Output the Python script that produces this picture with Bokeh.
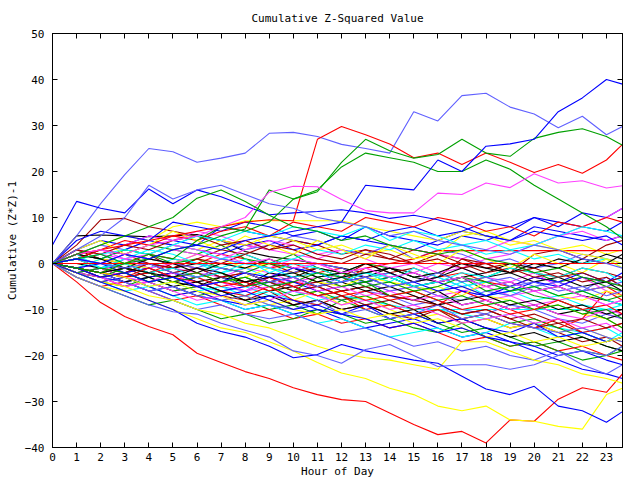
from bokeh.plotting import figure
from bokeh.models import ColumnDataSource, Range1d, FixedTicker, LinearAxis
from bokeh.embed import file_html
from bokeh.resources import INLINE

TITLE = "Cumulative Z-Squared Value"
X_LABEL = "Hour of Day"
Y_LABEL = "Cumulative (Z*Z)-1"
X_TICKS = list(range(24))
Y_TICKS = [-40, -30, -20, -10, 0, 10, 20, 30, 40, 50]

HOURS = [0, 1, 2, 3, 4, 5, 6, 7, 8, 9, 10, 11, 12, 13, 14, 15, 16, 17, 18, 19, 20, 21, 22, 23, 23.667]

# prominent walks
line_a = [0, 6, 13, 19.3, 25, 24.3, 22, 22.9, 24, 28.3, 28.5, 27.6, 25.9, 25, 24, 33, 31, 36.5, 37, 34, 32.5, 29.5, 32, 28, 29.8]
line_b = [4, 13.5, 12, 11, 16.2, 13, 16, 14.5, 12.5, 10.6, 11, 11.3, 11.7, 11, 9.8, 10.5, 9.5, 8, 6, 5, 7, 6, 5, 6, 4]
line_c = [0, 2, 3, 4, 5, 6, 7, 8, 9, 9.5, 9.3, 27, 29.8, 28, 26, 23, 24, 21.5, 24, 22, 19.8, 21.5, 19.6, 22.5, 25.9]
line_d = [0, 1, 2, 0, 1, 3, 4, 6, 7.5, 16, 14, 15.6, 22, 27, 24.5, 22.9, 23.7, 27, 24, 23.3, 27.2, 28.5, 29.3, 27.6, 25.7]
line_d2 = [0, -1, -2, 0, 2, 1, 5, 8, 7, 9, 14, 16, 21, 24, 23, 22, 20, 20, 22.5, 20.5, 17, 14, 11, 8, 5.4]
line_e = [0, 1, 0, 2, 1, 3, 4, 3, 5, 6, 7, 8, 9, 17, 16.5, 16, 22.5, 20, 25.5, 26, 27, 33, 36, 40, 39]
line_f = [0, 2, 3, 2, 4, 5, 6, 8, 10, 15.5, 16.8, 16.7, 13.9, 11.5, 11, 11, 15.3, 15, 17.5, 16.5, 19.5, 17.5, 18, 16.4, 16.9]
line_g = [0, -4, -8.5, -11.5, -13.7, -15.5, -19.5, -21.5, -23.5, -25, -27, -28.5, -29.6, -30, -32.5, -35, -37.2, -36.5, -39, -34, -34.3, -29.5, -27, -28, -24]
line_h = [0, -3, -5, -6, -8, -10, -12, -14, -15, -17, -19, -21.5, -23.8, -25, -27.1, -28.5, -31, -32, -31, -34, -34.3, -35.4, -36, -28.5, -27.1]
line_i = [0, -2, -4, -5, -7, -8, -10, -11, -13, -14, -16, -18, -19.5, -20.5, -21, -22, -23, -17, -17, -19, -21, -22, -24, -25, -26]
line_j = [0, -2, -4, -6, -8, -10, -13, -14.8, -16, -18, -20.5, -19.8, -17.6, -19, -20, -21, -21.7, -24.5, -27.3, -28.5, -26.7, -31, -32, -34.5, -32.2]
line_k = [0, -3, -5, -7, -9, -10.5, -11, -13, -14.5, -16, -19, -20, -21.7, -18.7, -17.6, -20, -22.4, -22, -22, -23, -22, -20, -19, -20, -18]
line_l = [0, 3, 6, 10, 17, 14, 16, 17, 15, 13, 12, 10, 9, 8, 6, 7, 5, 4, 3, 2, 4, 3, 1, 0, -1]
line_m = [0, 2, 4, 6, 8, 10, 14.2, 16, 13.5, 10.5, 8, 7, 5, 6, 4, 3, 2, 3, 1, 0, -2, -1, -3, -4, -5]
line_zero = [0] * 25

# the dense band
b01 = [0, 3, 5, 4, 6, 5, 4, 8, 7, 6, 5, 4, 6, 5, 4, 3, 5, 7, 6, 5, 8, 7, 6, 5, 6]
b02 = [0, -1, -2, 1, 0, -1, -2, -3, -1, -2, -4, -3, -5, -4, -6, -5, -7, -6, -8, -7, -9, -8, -10, -11, -12]
b03 = [0, -1, -3, -2, -4, -3, -5, -6, -5, -7, -6, -8, -7, -9, -8, -10, -10, -11, -12, -11, -13, -14, -15, -14, -16]
b04 = [0, 2, 1, 3, 2, 1, 0, 2, 1, -1, 0, -2, -1, -3, -2, -4, -3, -2, -4, -5, -3, -4, -6, -5, -7]
b05 = [0, -2, -4, -5, -3, -5, -7, -6, -8, -10, -9, -11, -8, -10, -12, -11, -13, -15, -14, -16, -18, -17, -19, -20, -18]
b06 = [0, 4, 9.5, 9.8, 8, 7, 6, 5, 4, 3, 5, 4, 2, 3, 1, 0, 2, 1, -1, 0, -2, -3, -1, -2, -3]
b07 = [0, 2, 4, 6, 5, 8, 9, 8, 9.3, 9.3, 9.3, 9.3, 9.3, 8, 7, 6, 5, 7, 6, 4, 5, 3, 4, 2, 3]
b08 = [0, 6, 6.2, 6, 5.8, 6, 6.3, 5, 2.6, 1.5, 0.8, 0, -1, -2, -1, -3, -4, -3, -5, -4, -6, -5, -7, -8, -9]
b09 = [0, -2, -1, -3, -2, -4, -3, -5, -6, -4, -5, -7, -8, -6, -7, -9, -8, -10, -11, -9, -10, -12, -13, -11, -12]
b10 = [0, -1, -3, -4, -6, -5, -7, -8, -10, -9, -11, -10, -12, -14, -13, -12, -14, -16, -15, -17, -19, -21, -23, -24, -25]
b11 = [0, 3, 2, 4, 6, 5, 7, 6, 4, 3, 2, 1, 3, 2, 4, 3, 2, 1, 3, 5, 4, 6, 7, 5, 6]
b12 = [0, 1, 2, 0, -1, 1, 0, -2, -1, -3, -2, -1, -3, -4, -2, -5, -6, -4, -7, -6, -8, -7, -9, -10, -9]
b13 = [0, -3, -5, -4, -6, -8, -7, -9, -11, -10, -12, -11, -13, -12, -14, -13, -15, -17, -16, -18, -17, -19, -18, -20, -21]
b14 = [0, 1, 3, 2, 4, 3, 2, 4, 1, 0, 2, -1, -2, 0, -1, -3, -2, -4, -3, -1, -2, -4, -3, -5, -6]
b15 = [0, -2, -3, -5, -4, -6, -5, -7, -8, -6, -9, -8, -10, -9, -11, -12, -10, -13, -12, -14, -13, -15, -17, -16, -18]
b16 = [0, -2, -4, -3, -5, -7, -6, -8, -7, -9, -8, -6, -9, -7, -10, -12, -11, -13, -12, -14, -13, -15, -14, -16, -17]
b17 = [0, -1, -2, -3, -2, -4, -5, -3, -4, -6, -5, -7, -6, -5, -7, -8, -6, -9, -8, -10, -9, -11, -10, -12, -11]
b18 = [0, 2, 4, 3, 5, 4, 6, 5, 3, 4, 6, 5, 3, 2, 4, 1, 3, 2, 0, 1, -1, 0, 2, 1, 0]
b19 = [0, 5, 7, 6, 5, 9, 8, 7, 9, 8, 6, 7, 5, 8, 6, 5, 4, 6, 5, 7, 10, 8, 11, 10, 12]
b20 = [0, -1, -3, -5, -4, -6, -5, -4, -6, -3, -5, -4, -2, -4, -3, -5, -4, -6, -5, -7, -6, -8, -7, -9, -8]
b21 = [0, -2, -1, -3, -5, -4, -6, -5, -7, -6, -8, -9, -7, -8, -9, -10, -10, -10, -10, -10, -10, -10, -10, -10, -10]
b22 = [0, 1, 0, -1, -2, 0, -1, -3, -2, -4, -3, -2, -4, -1, 0, 1, 2.8, 2.8, 2.8, 2.8, 2.8, 2.8, 2.8, 2.8, 2.8]
b23 = [0, -3, -5, -7, -9, -8, -10, -12, -11, -13, -12, -10, -11, -13, -12, -14, -15, -13, -16, -18, -17, -19, -21, -20, -19]
b24 = [0, 1, -1, -2, 0, -1, -3, -2, -4, -3, -5, -4, -6, -5, -7, -8, -9, -11, -10, -12, -14, -13, -15, -17, -16]
b25 = [0, 1, 3, 2, 1, 0, 2, 1, -1, 0, -2, -1, -3, -2, -4, -5, -6, -5, -7, -8, -10, -9, -11, -12, -14]
b26 = [0, -1, -2, -1, -3, -2, -4, -3, -5, -2, -3, -1, -2, -3, -1, -2, -4, -3, -2, 0, -1, 1, 0, 2, 1]
b27 = [0, -2, -1, 1, 0, -2, -1, -3, -5, -4, -6, -5, -3, -4, -6, -5, -7, -8, -6, -7, -5, -4, -6, -3, -5]
b28 = [0, 2, 1, 3, 5, 4, 3, 2, 4, 5, 3, 4, 6, 5, 7, 8, 6, 7, 9, 8, 10, 9, 8, 7, 9]
b29 = [0, -1, 0, 2, 1, 3, 2, 1, 0, -1, 1, 0, -2, -1, -3, -2, 0, -1, 1, 2, 4, 6, 8, 10, 12]
b30 = [0, -2, -4, -6, -5, -7, -9, -8, -10, -9, -11, -13, -12, -14, -16, -15, -14, -16, -15, -13, -14, -16, -15, -17, -15]
b31 = [0, 1, -1, -3, -2, -4, -3, -5, -4, -6, -4, -5, -7, -6, -8, -7, -9, -6, -8, -10, -12, -14, -12, -6, -8]
b32 = [0, -1, -3, -2, -4, -6, -5, -4, -3, -5, -7, -6, -8, -7, -9, -11, -10, -12, -11, -13, -12, -14, -16, -18, -19]
b33 = [0, 3, 1, 0, 2, -1, 1, 3, 2, 0, -2, -1, -3, 0, -2, -1, -3, 1, 0, -2, 2, 3, 1, 4, 5]
b34 = [0, -1, 1, 0, 2, 4, 3, 5, 4, 6, 5, 3, 4, 2, 3, 1, 2, 6, 7, 5, 4, 3, 2, 1, 0]
b35 = [0, 0, -1, 0, -2, -1, 0, -1, -2, -4, -3, -5, -4, -6, -5, -7, -9, -8, -7, -9, -8, -10, -9, -11, -10]
b36 = [0, -1, -3, -4, -6, -8, -10, -9, -11, -12, -11, -13, -15, -14, -16, -18, -17, -19, -18, -20, -21, -19, -22, -24, -22]
b37 = [0, -1, -2, -4, -3, -2, -4, -6, -5, -3, -4, -6, -5, -4, -3, -5, -4, -6, -7, -5, -3, -4, -2, -4, -3]
b38 = [0, 1, 2, 1, -1, 0, 2, 1, 3, 5, 4, 2, 3, 1, -1, 0, -2, -1, -3, -4, -2, -5, -3, -6, -7]
b39 = [0, -1, 1, 3, 2, 4, 3, 1, 2, 0, 1, 3, 2, 4, 3, 5, 3, 4, 2, 3, 1, 2, 0, 1, -1]
b40 = [0, -2, -3, -2, -1, -3, -4, -6, -7, -5, -8, -9, -7, -10, -9, -11, -10, -12, -11, -13, -14, -12, -15, -14, -13]
b41 = [0, 2, 1, 3, 2, 0, 1, -1, -2, 0, -1, -3, -2, -4, -3, -5, -4, -3, -6, -5, -7, -8, -10, -12, -14]
b42 = [0, 1, 3, 2, 0, -1, 1, 0, 2, 4, 3, 1, 0, 2, 1, 3, 2, 0, -2, -1, -3, -2, -4, -3, -5]
b43 = [0, -1, -2, 0, -1, -3, -2, -4, -3, -1, -2, -4, -5, -3, -4, -6, -5, -7, -4, -6, -5, -7, -8, -6, -7]
b44 = [0, -1, -2, -4, -3, -5, -4, -6, -8, -7, -9, -8, -10, -9, -11, -10, -13, -12, -14, -16, -15, -17, -16, -18, -19]
b45 = [0, 1, 0, 2, 1, 0, -1, 1, 0, -1, -2, 0, -1, -3, -2, -4, -3, -5, -4, -3, -5, -4, -6, -5, -4]
b46 = [0, -2, -4, -3, -5, -7, -6, -8, -9, -7, -8, -10, -11, -9, -12, -11, -13, -12, -14, -15, -13, -16, -15, -17, -16]
b47 = [0, -2, -1, -3, -4, -2, -5, -4, -6, -5, -3, -6, -5, -7, -6, -8, -7, -9, -8, -10, -9, -11, -12, -10, -11]
b48 = [0, 2, -1, 1, 3, 2, 0, -1, 1, -2, 0, -1, -3, -2, -4, -1, -3, -5, -4, -6, -5, -7, -6, -8, -9]
b49 = [0, 1, 3, 5, 4, 6, 5, 7, 8, 6, 9, 8, 7, 10, 9, 8, 10, 9, 7, 8, 6, 9, 8, 10, 9]
b50 = [0, -2, -3, -1, -2, -4, -3, -2, -5, -4, -6, -3, -5, -4, -7, -6, -8, -7, -9, -8, -10, -9, -11, -10, -12]
b51 = [0, -1, -3, -2, 0, -2, -1, -3, -2, -4, -6, -5, -7, -9, -8, -10, -9, -11, -10, -12, -11, -13, -12, -14, -13]
b52 = [0, 3, 5, 2, 4, 7, 5, 3, 6, 4, 2, 5, 3, 1, 4, 2, 0, 3, 1, -1, 2, 0, -2, 1, -1]
b53 = [0, 2, 1, -1, 1, 0, -2, 0, -1, 1, -1, -3, -2, 0, -2, -4, -3, -1, -3, -2, -4, -3, -5, -4, -6]
b54 = [0, -1, -2, -4, -6, -5, -7, -8, -7, -9, -10, -8, -11, -10, -12, -11, -9, -12, -11, -13, -14, -15, -14, -16, -17]
b55 = [0, -1, 0, -2, -1, -3, -5, -4, -2, -3, -1, -2, -4, -3, -5, -4, -6, -5, -7, -6, -4, -5, -3, -4, -2]
b56 = [0, -2, -3, -5, -4, -6, -8, -7, -9, -8, -6, -7, -9, -8, -10, -9, -11, -13, -12, -11, -13, -12, -14, -13, -15]
b57 = [0, 1, -1, 0, -2, -1, -3, -2, 0, -1, -3, -2, -4, -2, -3, -5, -4, -2, -3, -1, -2, -3, -1, -2, -4]
b58 = [0, -1, -2, -3, -1, -3, -2, -4, -5, -3, -5, -7, -6, -8, -7, -6, -8, -10, -9, -11, -10, -8, -10, -9, -11]
b59 = [0, -2, -1, -2, -4, -3, -2, -4, -3, -5, -4, -2, -3, -5, -4, -6, -5, -3, -4, -6, -5, -7, -6, -8, -7]
b60 = [0, 3, 2, 4, 3, 5, 6, 4, 5, 3, 4, 2, 1, 3, 2, 0, 1, -1, 0, -2, -1, -3, -2, -4, -3]
b61 = [0, -1, -2, -3, -5, -4, -6, -7, -9, -8, -10, -11, -10, -12, -11, -13, -12, -14, -16, -15, -17, -16, -18, -17, -16]
b62 = [0, -1, -2, -1, -2, -3, -1, -2, -4, -3, -2, -4, -3, -2, -1, -3, -2, 0, -1, -2, 0, -1, 1, 0, 2]
b63 = [0, 1, 0, -1, 0, -2, -3, -1, -2, -4, -3, -5, -4, -3, -5, -4, -2, -4, -3, -5, -4, -6, -5, -7, -6]
b64 = [0, -1, -3, -2, -4, -3, -5, -7, -6, -8, -10, -9, -11, -12, -14, -13, -15, -14, -16, -17, -18, -20, -19, -21, -22]
b65 = [0, 2, 3, 1, 2, 4, 3, 2, 0, 1, -1, 0, -2, -1, -3, -2, -4, -3, -5, -4, -6, -5, -7, -9, -8]
b66 = [0, 1, 2, 3, 2, 4, 6, 5, 7, 6, 8, 7, 6, 8, 5, 7, 6, 4, 5, 3, 4, 6, 8, 7, 6]

RED, GREEN, BLUE, MAGENTA, CYAN, DARKRED, YELLOW, BLACK, SLATE = (
    "#ff0000", "#00a000", "#0000ff", "#ff40ff", "#00ffff", "#a00000", "#ffff00", "#000000", "#6060ff")

band = [b01, b02, b03, b04, b05, b06, b07, b08, b09, b10, b11, b12, b13, b14, b15, b16,
        b17, b18, b19, b20, b21, b22, b23, b24, b25, b26, b27, b28, b29, b30, b31, b32,
        b33, b34, b35, b36, b37, b38, b39, b40, b41, b42, b43, b44, b45, b46, b47, b48,
        b49, b50, b51, b52, b53, b54, b55, b56, b57, b58, b59, b60, b61, b62, b63, b64,
        b65, b66]
band_colors = [BLUE, MAGENTA, CYAN, RED, GREEN, DARKRED, YELLOW, BLACK, SLATE]

series = []
colors = []
for i, s in enumerate(band):
    series.append(s)
    colors.append(band_colors[i % len(band_colors)])

series += [line_zero, line_a, line_b, line_c, line_d, line_d2, line_e, line_f,
           line_g, line_h, line_i, line_j, line_k, line_l, line_m]
colors += [RED, SLATE, BLUE, RED, GREEN, GREEN, BLUE, MAGENTA,
           RED, YELLOW, YELLOW, BLUE, SLATE, SLATE, GREEN]

src = ColumnDataSource(dict(xs=[HOURS] * len(series), ys=series, color=colors))

FONT = "DejaVu Sans Mono"

p = figure(width=640, height=480, output_backend="svg", toolbar_location=None,
           x_range=Range1d(0, 23.667), y_range=Range1d(-40, 50),
           min_border_left=52, min_border_right=18, min_border_top=33, min_border_bottom=33)

p.multi_line(xs="xs", ys="ys", line_color="color", line_width=1.1, source=src)

p.title.text = TITLE
p.title.align = "center"
p.title.text_font = FONT
p.title.text_font_size = "11px"
p.title.text_font_style = "normal"
p.title.text_color = "black"
p.title.standoff = 17

p.xgrid.visible = False
p.ygrid.visible = False
p.outline_line_color = "black"
p.outline_line_width = 1
p.background_fill_color = "white"
p.border_fill_color = "white"

def style(ax, ticks, labels=True):
    ax.ticker = FixedTicker(ticks=ticks)
    ax.axis_line_color = "black"
    ax.major_tick_in = 5
    ax.major_tick_out = 0
    ax.major_tick_line_color = "black"
    ax.minor_tick_line_color = None
    ax.major_label_text_font = FONT
    ax.major_label_text_font_size = "11px"
    ax.major_label_text_color = "black" if labels else None
    ax.axis_label_text_font = FONT
    ax.axis_label_text_font_size = "11px"
    ax.axis_label_text_font_style = "normal"
    ax.axis_label_text_color = "black"

style(p.xaxis[0], X_TICKS)
style(p.yaxis[0], Y_TICKS)
p.xaxis[0].axis_label = X_LABEL
p.yaxis[0].axis_label = Y_LABEL
p.xaxis[0].major_label_standoff = 5
p.xaxis[0].axis_label_standoff = 1
p.yaxis[0].major_label_standoff = 8
p.yaxis[0].axis_label_standoff = 3

top = LinearAxis()
style(top, X_TICKS, labels=False)
top.major_label_standoff = 0
top.major_label_text_font_size = "0px"
p.add_layout(top, "above")
right = LinearAxis()
style(right, Y_TICKS, labels=False)
right.major_label_standoff = 0
right.major_label_text_font_size = "0px"
p.add_layout(right, "right")

open("out.html", "w").write(file_html(p, INLINE))
